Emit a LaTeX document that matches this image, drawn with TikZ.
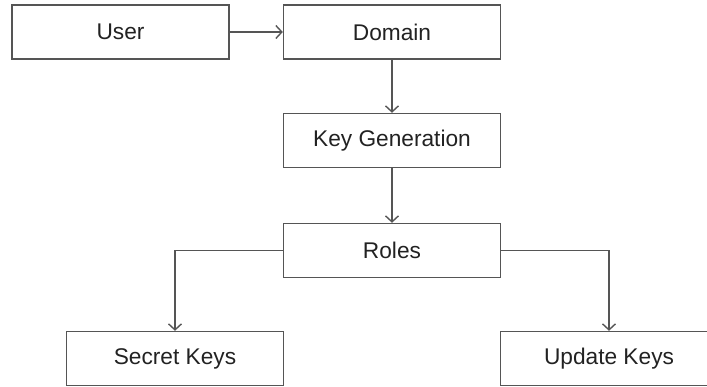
\documentclass[tikz,border=0pt]{standalone}
\usepackage{fontspec}
\setmainfont{Liberation Sans}
\usetikzlibrary{arrows.meta}
\definecolor{edgegray}{HTML}{555555}
\definecolor{textgray}{HTML}{222222}
\tikzset{
  box/.style={draw=edgegray, line width=1.4pt, fill=white, minimum width=217pt,
    minimum height=54pt, inner sep=0pt, text=textgray,
    font=\fontsize{22.7pt}{26pt}\selectfont},
  link/.style={draw=edgegray, line width=1.4pt,
    -{Straight Barb[length=6pt,width=13pt,line width=1.4pt]}},
}
\begin{document}
\begin{tikzpicture}[x=1pt,y=-1pt]
  \useasboundingbox (0,0) rectangle (707,387);
  \clip (0,0) rectangle (707,387);
  \node[box] (user)   at (120.5,32)  {User};
  \node[box] (domain) at (392,32)    {Domain};
  \node[box] (keygen) at (392,140.5) {Key Generation};
  \node[box] (roles)  at (392,250.5) {Roles};
  \node[box] (secret) at (175,358.5) {Secret Keys};
  \node[box] (update) at (609,358.5) {Update Keys};
  \draw[link] (user) -- (domain);
  \draw[link] (domain) -- (keygen);
  \draw[link] (keygen) -- (roles);
  \draw[link] (roles.west) -| (secret.north);
  \draw[link] (roles.east) -| (update.north);
\end{tikzpicture}
\end{document}
